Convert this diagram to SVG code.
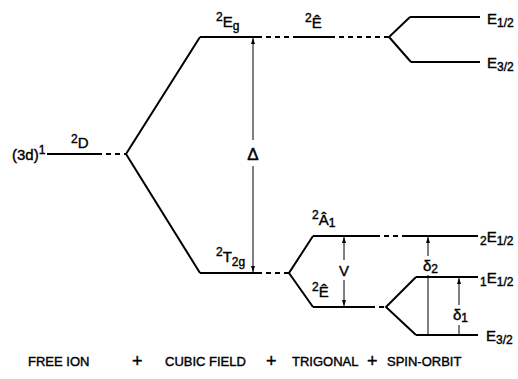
<svg xmlns="http://www.w3.org/2000/svg" width="518" height="379" viewBox="0 0 518 379">
<defs>
<marker id="ah" viewBox="0 0 6 4" refX="6" refY="2" markerWidth="6" markerHeight="4" markerUnits="userSpaceOnUse" orient="auto-start-reverse">
<path d="M0,0 L6,2 L0,4 z" fill="#000"/>
</marker>
<style>
.lvl{stroke:#000;stroke-width:2;fill:none}
.dl{stroke:#000;stroke-width:2;fill:none}
.ds{stroke:#000;stroke-width:2;fill:none;stroke-dasharray:5 4}
.ar{stroke:#000;stroke-width:1;fill:none}
text{font-family:"Liberation Sans",Arial,sans-serif;fill:#000;stroke:#000;stroke-width:0.4}
.lb{font-size:15px}
.sp{font-size:12px}
.sb{font-size:12px}
.bt{font-size:13px}
.pl{font-size:18px}
</style>
</defs>
<rect width="518" height="379" fill="#fff"/>

<g id="connectors">
<line class="ds" x1="97" y1="154" x2="126" y2="154"/>
<polyline class="dl" points="200,37 126,154 200,273"/>
<line class="ds" x1="257" y1="37" x2="297" y2="37"/>
<line class="ds" x1="330" y1="37" x2="389" y2="37"/>
<polyline class="dl" points="410,17 389,37 411,62"/>
<line class="ds" x1="257" y1="273" x2="289" y2="273"/>
<polyline class="dl" points="313,236 289,273 313,307"/>
<line class="ds" x1="375" y1="236" x2="403" y2="236"/>
<line class="ds" x1="370" y1="307" x2="386" y2="307"/>
<polyline class="dl" points="416,277 386,307 416,335"/>
<line class="ar" x1="253" y1="140" x2="253" y2="38" marker-end="url(#ah)"/>
<line class="ar" x1="253" y1="166" x2="253" y2="272" marker-end="url(#ah)"/>
<line class="ar" x1="344" y1="260" x2="344" y2="237" marker-end="url(#ah)"/>
<line class="ar" x1="344" y1="280" x2="344" y2="306" marker-end="url(#ah)"/>
<line class="ar" x1="428" y1="256" x2="428" y2="237" marker-end="url(#ah)"/>
<line class="ar" x1="428" y1="275" x2="428" y2="335"/>
<line class="ar" x1="459" y1="305" x2="459" y2="278" marker-end="url(#ah)"/>
<line class="ar" x1="459" y1="325" x2="459" y2="335"/>
<text class="lb" x="253" y="160" text-anchor="middle" style="font-size:17px">Δ</text>
<text class="lb" x="344" y="276" text-anchor="middle">V</text>
<text class="lb" x="423" y="271">δ<tspan class="sb" dy="2">2</tspan></text>
<text class="lb" x="453" y="320">δ<tspan class="sb" dy="2">1</tspan></text>
</g>

<g id="free-ion">
<line class="lvl" x1="47" y1="154" x2="97" y2="154"/>
<text class="lb" x="12" y="160">(3d)<tspan class="sp" dy="-6">1</tspan></text>
<text class="lb" x="71" y="148"><tspan class="sp" dy="-5">2</tspan><tspan dy="5">D</tspan></text>
</g>

<g id="Eg">
<line class="lvl" x1="200" y1="37" x2="257" y2="37"/>
<text class="lb" x="216" y="27"><tspan class="sp" dy="-6">2</tspan><tspan dy="6">E</tspan><tspan class="sb" dy="3">g</tspan></text>
</g>

<g id="E-trig-upper">
<line class="lvl" x1="297" y1="37" x2="330" y2="37"/>
<text class="lb" x="305" y="28"><tspan class="sp" dy="-6">2</tspan><tspan dy="6">Ê</tspan></text>
</g>

<g id="E12-upper">
<line class="lvl" x1="410" y1="17" x2="480" y2="17"/>
<text class="lb" x="487" y="24">E<tspan class="sb" dy="3">1/2</tspan></text>
</g>

<g id="E32-upper">
<line class="lvl" x1="411" y1="62" x2="480" y2="62"/>
<text class="lb" x="487" y="68">E<tspan class="sb" dy="3">3/2</tspan></text>
</g>

<g id="T2g">
<line class="lvl" x1="200" y1="273" x2="257" y2="273"/>
<text class="lb" x="216" y="262"><tspan class="sp" dy="-6">2</tspan><tspan dy="6">T</tspan><tspan class="sb" dy="4">2g</tspan></text>
</g>

<g id="A1">
<line class="lvl" x1="313" y1="236" x2="375" y2="236"/>
<text class="lb" x="312" y="225"><tspan class="sp" dy="-6">2</tspan><tspan dy="6">Â</tspan><tspan class="sb" dy="2">1</tspan></text>
</g>

<g id="E-trig-lower">
<line class="lvl" x1="313" y1="307" x2="370" y2="307"/>
<text class="lb" x="312" y="297"><tspan class="sp" dy="-6">2</tspan><tspan dy="6">Ê</tspan></text>
</g>

<g id="E12-2">
<line class="lvl" x1="403" y1="236" x2="478" y2="236"/>
<text class="lb" x="480" y="242"><tspan class="sb" dy="3">2</tspan><tspan dy="-3">E</tspan><tspan class="sb" dy="3">1/2</tspan></text>
</g>

<g id="E12-1">
<line class="lvl" x1="416" y1="277" x2="478" y2="277"/>
<text class="lb" x="480" y="283"><tspan class="sb" dy="3">1</tspan><tspan dy="-3">E</tspan><tspan class="sb" dy="3">1/2</tspan></text>
</g>

<g id="E32-lower">
<line class="lvl" x1="416" y1="335" x2="478" y2="335"/>
<text class="lb" x="486" y="341">E<tspan class="sb" dy="3">3/2</tspan></text>
</g>

<g id="stages">
<text class="bt" x="28" y="366">FREE ION</text>
<text class="pl" x="132" y="367">+</text>
<text class="bt" x="165" y="366">CUBIC FIELD</text>
<text class="pl" x="266" y="367">+</text>
<text class="bt" x="292" y="366">TRIGONAL</text>
<text class="pl" x="367" y="367">+</text>
<text class="bt" x="387" y="366">SPIN-ORBIT</text>
</g>
</svg>
